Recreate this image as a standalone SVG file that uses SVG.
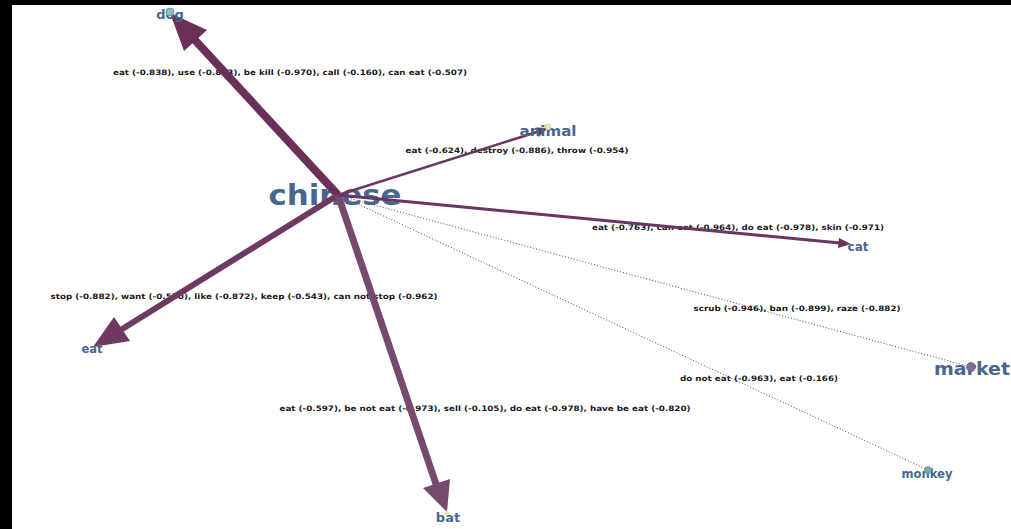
<svg xmlns="http://www.w3.org/2000/svg" width="1011" height="529" viewBox="0 0 1011 529">
<style>
.nl{font-family:"DejaVu Sans","Liberation Sans",sans-serif;font-weight:bold;fill:#48678f;text-anchor:middle}
.el{font-family:"DejaVu Sans","Liberation Sans",sans-serif;font-weight:bold;font-size:7.5px;fill:#1a1a1a;text-anchor:middle}
.e{fill:none;stroke-linecap:butt}
.dot{fill:none;stroke:#6b3560;stroke-width:1;stroke-dasharray:1 2}
</style>
<rect x="0" y="0" width="1011" height="529" fill="#ffffff"/>
<rect x="0" y="0" width="1011" height="5" fill="#000000"/>
<rect x="0" y="0" width="12" height="529" fill="#000000"/>
<g id="node-chinese"><text class="nl" x="335" y="205" font-size="28" textLength="133" lengthAdjust="spacingAndGlyphs">chinese</text></g>
<g id="edge-labels">
  <text class="el" x="290" y="75" textLength="354" lengthAdjust="spacingAndGlyphs">eat (-0.838), use (-0.853), be kill (-0.970), call (-0.160), can eat (-0.507)</text>
  <text class="el" x="517" y="153" textLength="223" lengthAdjust="spacingAndGlyphs">eat (-0.624), destroy (-0.886), throw (-0.954)</text>
  <text class="el" x="738" y="230" textLength="292" lengthAdjust="spacingAndGlyphs">eat (-0.763), can eat (-0.964), do eat (-0.978), skin (-0.971)</text>
  <text class="el" x="244" y="299" textLength="387" lengthAdjust="spacingAndGlyphs">stop (-0.882), want (-0.550), like (-0.872), keep (-0.543), can not stop (-0.962)</text>
  <text class="el" x="797" y="311" textLength="207" lengthAdjust="spacingAndGlyphs">scrub (-0.946), ban (-0.899), raze (-0.882)</text>
  <text class="el" x="759" y="381" textLength="158" lengthAdjust="spacingAndGlyphs">do not eat (-0.963), eat (-0.166)</text>
  <text class="el" x="485" y="411" textLength="411" lengthAdjust="spacingAndGlyphs">eat (-0.597), be not eat (-0.973), sell (-0.105), do eat (-0.978), have be eat (-0.820)</text>
</g>
<g id="connectors">
  <line class="dot" x1="345" y1="197" x2="971" y2="367"/>
  <line class="dot" x1="345" y1="198" x2="928" y2="470"/>
  <g id="edge-dog"><line class="e" x1="338" y1="195" x2="193" y2="38" stroke="#6a3058" stroke-width="8"/><polygon points="170,13 207,30 184,51" fill="#6a3058"/></g>
  <g id="edge-eat"><line class="e" x1="338" y1="195" x2="119" y2="331" stroke="#6e3a62" stroke-width="6"/><polygon points="93,347 130,341 114,317" fill="#6e3a62"/></g>
  <g id="edge-bat"><line class="e" x1="338" y1="195" x2="436" y2="484" stroke="#754a6c" stroke-width="7"/><polygon points="447,512 423,488 450,479" fill="#754a6c"/></g>
  <g id="edge-animal"><line class="e" x1="338" y1="195" x2="537" y2="132" stroke="#6b3560" stroke-width="2.5"/><polygon points="548,128 535.5,127.5 538.5,137" fill="#6b3560"/></g>
  <g id="edge-cat"><line class="e" x1="338" y1="195" x2="840" y2="243" stroke="#6b3560" stroke-width="3"/><polygon points="851,244 839,238 838,248" fill="#6b3560"/></g>
</g>
<g id="node-dog"><text class="nl" x="170" y="19" font-size="13">dog</text><circle cx="170" cy="12" r="4" fill="#8cbcc4" stroke="#5d8d9c" stroke-width="0.8"/></g>
<g id="node-animal"><text class="nl" x="548" y="136" font-size="14" textLength="57" lengthAdjust="spacingAndGlyphs">animal</text><circle cx="548" cy="127" r="3" fill="#ece6b0" stroke="#b8b080" stroke-width="0.6"/></g>
<g id="node-cat"><text class="nl" x="858" y="251" font-size="12">cat</text></g>
<g id="node-eat"><text class="nl" x="92" y="353" font-size="11.5">eat</text></g>
<g id="node-market"><text class="nl" x="972" y="375" font-size="18" textLength="76" lengthAdjust="spacingAndGlyphs">market</text><circle cx="971" cy="367" r="4.5" fill="#7f6f93" stroke="#5e5070" stroke-width="0.6"/></g>
<g id="node-monkey"><text class="nl" x="927" y="478" font-size="11.5" textLength="51" lengthAdjust="spacingAndGlyphs">monkey</text><circle cx="928" cy="470" r="3.5" fill="#6faeab" stroke="#4e8e8c" stroke-width="0.6"/></g>
<g id="node-bat"><text class="nl" x="448" y="522" font-size="13">bat</text><circle cx="447" cy="513" r="2.5" fill="#ece6b0"/></g>
</svg>
